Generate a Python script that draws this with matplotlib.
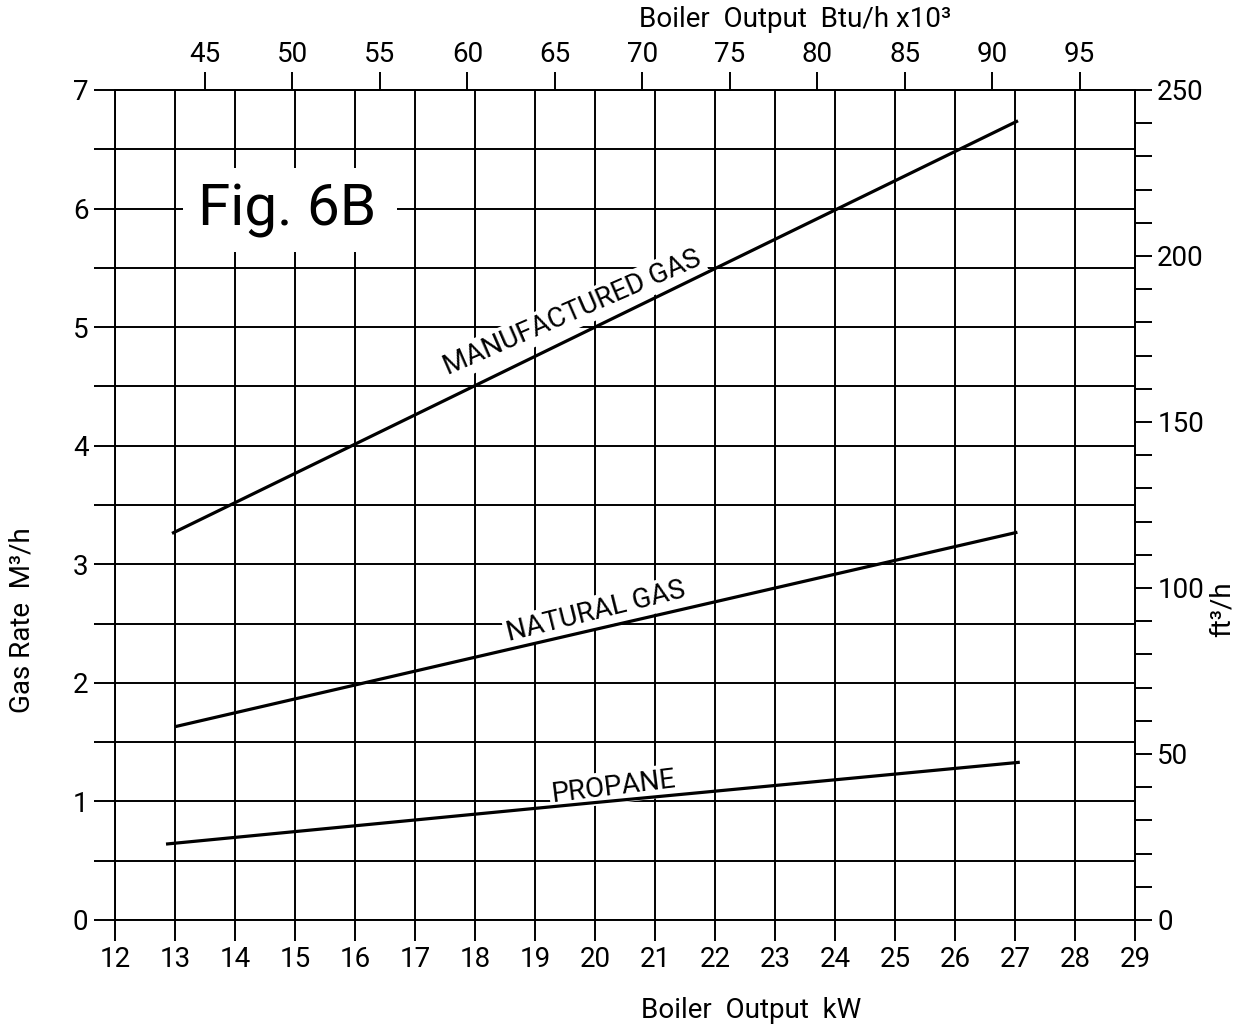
import numpy as np
import matplotlib
matplotlib.use("Agg")
import matplotlib.pyplot as plt
from matplotlib import font_manager
from matplotlib.patches import Rectangle
from matplotlib.ticker import MultipleLocator, NullFormatter

# ---------------- data ----------------
kw_manufactured = [12.95, 20.0, 27.05]
rate_manufactured = [3.26, 5.00, 6.74]

kw_natural = [13.0, 20.0, 27.04]
rate_natural = [1.63, 2.45, 3.27]

kw_propane = [12.85, 20.0, 27.08]
rate_propane = [0.64, 0.99, 1.33]

series_labels = ["MANUFACTURED GAS", "NATURAL GAS", "PROPANE"]

kw_ticks = list(range(12, 30))
rate_ticks = list(range(0, 8))
btu_ticks = list(range(45, 100, 5))
ft3_ticks = list(range(0, 251, 50))

# axis relations as drawn on the chart
btu_ref_kw, btu_ref, btu_per_kw = 13.5, 45.0, 3.43
ft3_full, m3_full = 250.0, 7.0

# ---------------- fonts ----------------
names = {f.name for f in font_manager.fontManager.ttflist}
font = "Roboto" if "Roboto" in names else "DejaVu Sans"
plt.rcParams["font.family"] = [font, "DejaVu Sans"]
plt.rcParams["font.weight"] = "normal"

LW_GRID = 1.4
LW_DATA = 2.3
TFS = 20

fig = plt.figure(figsize=(12.38, 10.28), dpi=100)
ax = fig.add_axes([0.0929, 0.1051, 0.8239, 0.8074])
ax.set_xlim(12, 29)
ax.set_ylim(0, 7)
ax.set_axisbelow(True)

ax.xaxis.set_major_locator(MultipleLocator(1))
ax.yaxis.set_major_locator(MultipleLocator(1))
ax.yaxis.set_minor_locator(MultipleLocator(0.5))
ax.yaxis.set_minor_formatter(NullFormatter())
ax.set_xticks(kw_ticks)
ax.set_yticks(rate_ticks)
ax.tick_params(which="both", direction="out", length=15, width=LW_GRID,
               labelsize=TFS, color="black")
ax.tick_params(axis="x", pad=4)
ax.tick_params(axis="y", pad=4)
ax.grid(which="both", color="black", lw=LW_GRID)
for s in ax.spines.values():
    s.set_linewidth(LW_GRID)

# top axis: Btu/h x10^3
def kw2btu(x):
    return btu_ref + (np.asarray(x) - btu_ref_kw) * btu_per_kw

def btu2kw(b):
    return btu_ref_kw + (np.asarray(b) - btu_ref) / btu_per_kw

top = ax.secondary_xaxis("top", functions=(kw2btu, btu2kw))
top.set_xticks(btu_ticks)
top.tick_params(direction="out", length=13, width=LW_GRID, labelsize=TFS, pad=3)
top.spines["top"].set_linewidth(LW_GRID)

# right axis: ft3/h
def m2f(m):
    return np.asarray(m) * ft3_full / m3_full

def f2m(f):
    return np.asarray(f) * m3_full / ft3_full

right = ax.secondary_yaxis("right", functions=(m2f, f2m))
right.set_yticks(ft3_ticks)
right.yaxis.set_minor_locator(MultipleLocator(10))
right.yaxis.set_minor_formatter(NullFormatter())
right.tick_params(which="both", direction="out", length=12, width=LW_GRID,
                  labelsize=TFS, pad=4)
right.spines["right"].set_linewidth(LW_GRID)

# curves
for kx, ry in [(kw_manufactured, rate_manufactured),
               (kw_natural, rate_natural),
               (kw_propane, rate_propane)]:
    ax.plot(kx, ry, color="black", lw=LW_DATA, zorder=4, solid_capstyle="butt")

box = dict(facecolor="white", edgecolor="none", pad=2)
ax.text(19.63, 5.12, series_labels[0], rotation=23.5, rotation_mode="anchor",
        ha="center", va="center", fontsize=20, bbox=box, zorder=3)
ax.text(20.02, 2.60, series_labels[1], rotation=14, rotation_mode="anchor",
        ha="center", va="center", fontsize=20, bbox=box, zorder=3)
ax.text(20.32, 1.12, series_labels[2], rotation=7, rotation_mode="anchor",
        ha="center", va="center", fontsize=20, bbox=box, zorder=3)

# figure label with white box
ax.add_patch(Rectangle((13.13, 5.63), 3.57, 0.71, facecolor="white",
                       edgecolor="none", zorder=2.8))
ax.text(14.87, 5.98, "Fig. 6B", ha="center", va="center", fontsize=42, zorder=3)

# axis titles
fig.text(0.018, 0.397, "Gas Rate  M³/h", rotation=90, ha="center", va="center",
         fontsize=20)
fig.text(0.987, 0.407, "ft³/h", rotation=90, ha="center", va="center", fontsize=20)
fig.text(0.607, 0.0175, "Boiler  Output  kW", ha="center", va="center", fontsize=20)
fig.text(0.642, 0.981, "Boiler  Output  Btu/h x10³", ha="center", va="center",
         fontsize=20)

fig.savefig("out.png", dpi=100, facecolor="white")
